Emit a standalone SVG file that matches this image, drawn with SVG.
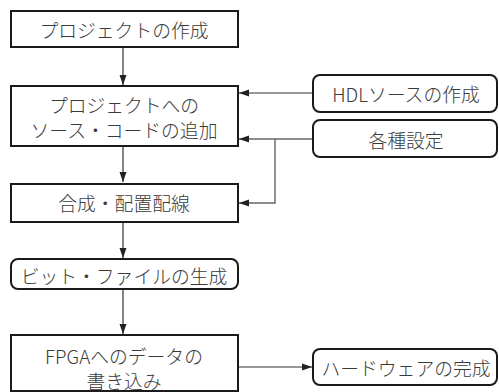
<svg xmlns="http://www.w3.org/2000/svg" width="499" height="392" viewBox="0 0 499 392">
<style>
.box{fill:#fff;stroke:#1a1a1a;stroke-width:2}
.t{font-family:"Noto Sans CJK JP","Noto Sans",sans-serif;font-size:18.8px;font-weight:300;fill:#3a3a3a;text-anchor:middle;dominant-baseline:central}
.c{fill:none;stroke:#333;stroke-width:1.2}
.g{fill:none;stroke:#666;stroke-width:1.4}
</style>
<defs>
<marker id="ah" viewBox="0 0 10 10" refX="10" refY="5" markerWidth="10" markerHeight="10" markerUnits="userSpaceOnUse" orient="auto">
<path d="M0,1.5 L10,5 L0,8.5 Z" fill="#222"/>
</marker>
</defs>
<g id="connectors">
<line class="c" x1="123" y1="47" x2="123" y2="85" marker-end="url(#ah)"/>
<line class="c" x1="123" y1="146" x2="123" y2="182" marker-end="url(#ah)"/>
<line class="c" x1="123" y1="222" x2="123" y2="258" marker-end="url(#ah)"/>
<line class="c" x1="123" y1="289" x2="123" y2="334" marker-end="url(#ah)"/>
<line class="c" x1="313" y1="93" x2="239" y2="93" marker-end="url(#ah)"/>
<line class="g" x1="313" y1="139" x2="239" y2="139" marker-end="url(#ah)"/>
<polyline class="g" points="275,139 275,203 239,203" marker-end="url(#ah)"/>
<line class="c" x1="239" y1="367" x2="312" y2="367" marker-end="url(#ah)"/>
</g>
<g id="n1"><rect class="box" x="11" y="11" width="227" height="36"/><text class="t" x="124" y="29">プロジェクトの作成</text></g>
<g id="n2"><rect class="box" x="11" y="86" width="227" height="60"/><text class="t" x="124" y="104">プロジェクトへの</text><text class="t" x="124" y="129">ソース・コードの追加</text></g>
<g id="n3"><rect class="box" x="11" y="184" width="227" height="38"/><text class="t" x="124" y="202">合成・配置配線</text></g>
<g id="n4"><rect class="box" x="11" y="259" width="227" height="30" rx="7"/><text class="t" x="124" y="275">ビット・ファイルの生成</text></g>
<g id="n5"><rect class="box" x="11" y="335" width="227" height="56"/><text class="t" x="124" y="355">FPGAへのデータの</text><text class="t" x="124" y="380">書き込み</text></g>
<g id="n6"><rect class="box" x="313" y="75" width="184" height="37" rx="7"/><text class="t" x="406" y="93">HDLソースの作成</text></g>
<g id="n7"><rect class="box" x="313" y="120" width="184" height="37" rx="7"/><text class="t" x="406" y="139">各種設定</text></g>
<g id="n8"><rect class="box" x="313" y="349" width="184" height="36" rx="7"/><text class="t" x="406" y="367">ハードウェアの完成</text></g>
</svg>
